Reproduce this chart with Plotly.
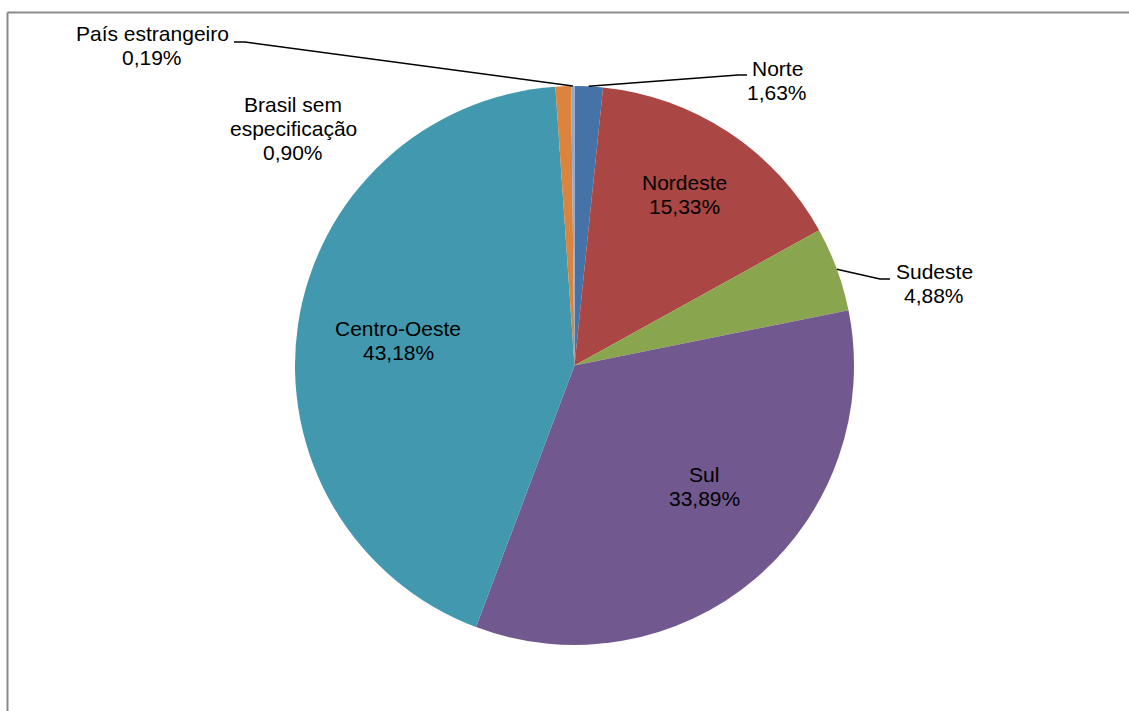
import math
import plotly.graph_objects as go

# Distribuição percentual por região de origem
regioes = ["Norte", "Nordeste", "Sudeste", "Sul", "Centro-Oeste",
           "Brasil sem especificação", "País estrangeiro"]
percentuais = [1.63, 15.33, 4.88, 33.89, 43.18, 0.90, 0.19]
cores = ["#4572A7", "#AA4643", "#89A54E", "#71588F", "#4198AF",
         "#DB843D", "#93A9CF"]

# Canvas and pie geometry (pixels)
W, H = 1129, 711
CX, CY, R = 574.5, 365.5, 279.5
FONTE = 21
ENTRELINHA = 24

# Label placement: text lines, centre x, first baseline y, optional leader elbow
rotulos = {
    "Norte": dict(linhas=["Norte"], x=777, y=76, guia=(738, 747, 75)),
    "Nordeste": dict(linhas=["Nordeste"], x=684, y=190),
    "Sudeste": dict(linhas=["Sudeste"], x=934, y=279, guia=(880, 890, 279)),
    "Sul": dict(linhas=["Sul"], x=704, y=482),
    "Centro-Oeste": dict(linhas=["Centro-Oeste"], x=398, y=336),
    "Brasil sem especificação": dict(linhas=["Brasil sem", "especificação"], x=293, y=112),
    "País estrangeiro": dict(linhas=["País estrangeiro"], x=152, y=41, guia=(245, 234, 42)),
}


def px(x):
    return x / W


def py(y):
    return 1 - y / H


fig = go.Figure(go.Pie(
    labels=regioes,
    values=percentuais,
    sort=False,
    direction="clockwise",
    rotation=0,
    marker=dict(colors=cores, line=dict(width=0)),
    textinfo="none",
    hoverinfo="label+percent",
    showlegend=False,
    domain=dict(x=[px(CX - R), px(CX + R)], y=[py(CY + R), py(CY - R)]),
))

anotacoes = []
formas = []
total = sum(percentuais)
acumulado = 0.0
for nome, valor in zip(regioes, percentuais):
    meio = (acumulado + valor / 2) / total * 2 * math.pi
    acumulado += valor
    cfg = rotulos[nome]
    linhas = cfg["linhas"] + [f"{valor:.2f}".replace(".", ",") + "%"]
    for i, texto in enumerate(linhas):
        base = cfg["y"] + i * ENTRELINHA
        anotacoes.append(dict(
            text=texto, x=px(cfg["x"]), y=py(base - 0.35 * FONTE),
            xref="paper", yref="paper", xanchor="center", yanchor="middle",
            showarrow=False, font=dict(family="Liberation Sans, Arial", size=FONTE, color="#000000"),
        ))
    if "guia" in cfg:
        x1, x2, gy = cfg["guia"]
        rx = CX + R * math.sin(meio)
        ry = CY - R * math.cos(meio)
        formas.append(dict(
            type="path", xref="paper", yref="paper",
            path=f"M {px(rx)},{py(ry)} L {px(x1)},{py(gy)} L {px(x2)},{py(gy)}",
            line=dict(color="#000000", width=1.5),
        ))

# Chart area frame (top and left edges visible)
formas.append(dict(type="line", xref="paper", yref="paper",
                   x0=px(7.5), y0=py(12.5), x1=1.0, y1=py(12.5),
                   line=dict(color="#8a8a8a", width=2)))
formas.append(dict(type="line", xref="paper", yref="paper",
                   x0=px(7.5), y0=py(12.5), x1=px(7.5), y1=0.0,
                   line=dict(color="#8a8a8a", width=2)))

fig.update_layout(
    width=W, height=H,
    margin=dict(l=0, r=0, t=0, b=0),
    paper_bgcolor="#ffffff",
    plot_bgcolor="#ffffff",
    annotations=anotacoes,
    shapes=formas,
)

fig.write_html("out.html")
